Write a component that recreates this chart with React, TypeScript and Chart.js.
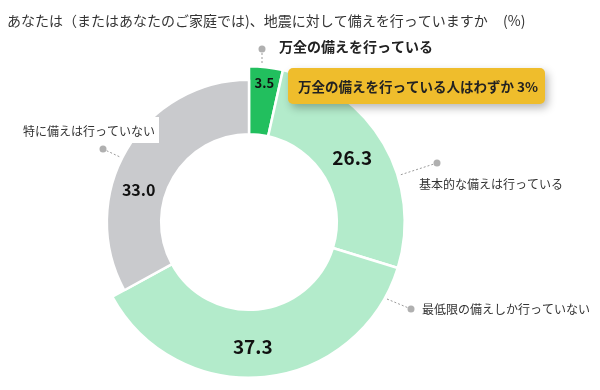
import React, { useEffect, useRef } from "react";
import { Chart, registerables } from "chart.js";

Chart.register(...registerables);

const categories = [
  "万全の備えを行っている",
  "基本的な備えは行っている",
  "最低限の備えしか行っていない",
  "特に備えは行っていない",
];
const values = [3.5, 26.3, 37.3, 33.0];
const valueLabels = ["3.5", "26.3", "37.3", "33.0"];
const colors = ["#22bf5e", "#b3ebcb", "#b3ebcb", "#c9cacd"];
const titleText = "あなたは（またはあなたのご家庭では)、地震に対して備えを行っていますか";
const unitText = "(%)";
const calloutText = "万全の備えを行っている人はわずか 3%";

// layout / style helpers (not data)
const ringScale = [1, 1, 1, 0.8];
const labelAngleFrac = [0.5, 0.48, 0.53, 0.38];
const labelRadiusFrac = [0.77, 0.5, 0.55, 0.5];
const labelFontSize = [13, 19, 19, 16];
const FONT = '"Noto Sans CJK JP", "Noto Sans", sans-serif';

const drawPlugin = {
  id: "customDraw",
  afterDatasetsUpdate(chart: any) {
    const meta = chart.getDatasetMeta(0);
    meta.data.forEach((arc: any, i: number) => {
      const s = ringScale[i];
      if (s !== 1) {
        arc.outerRadius = arc.innerRadius + (arc.outerRadius - arc.innerRadius) * s;
      }
    });
  },
  afterDatasetsDraw(chart: any) {
    const ctx: CanvasRenderingContext2D = chart.ctx;
    const meta = chart.getDatasetMeta(0);
    ctx.save();

    // title
    ctx.fillStyle = "#333";
    ctx.font = `14px ${FONT}`;
    ctx.textBaseline = "middle";
    ctx.textAlign = "left";
    ctx.fillText(titleText, 7, 21);
    ctx.fillText(unitText, 503, 21);

    // white background behind left label
    ctx.fillStyle = "#fff";
    ctx.fillRect(15, 117, 144, 26);

    // dotted leader lines and dots
    const leaders: [number, number, number, number][] = [
      [262, 49, 262, 64],
      [437, 163, 400, 175],
      [411, 309, 387, 299],
      [103, 149, 120, 157],
    ];
    ctx.strokeStyle = "#9a9a9a";
    ctx.lineWidth = 1;
    ctx.setLineDash([2, 2]);
    leaders.forEach(([x1, y1, x2, y2]) => {
      ctx.beginPath();
      ctx.moveTo(x1, y1);
      ctx.lineTo(x2, y2);
      ctx.stroke();
    });
    ctx.setLineDash([]);
    ctx.fillStyle = "#b0b0b0";
    leaders.forEach(([x1, y1]) => {
      ctx.beginPath();
      ctx.arc(x1, y1, 3.5, 0, Math.PI * 2);
      ctx.fill();
    });

    // category labels
    ctx.fillStyle = "#222";
    ctx.font = `bold 14px ${FONT}`;
    ctx.fillText(categories[0], 279, 47);
    ctx.fillStyle = "#333";
    ctx.font = `12px ${FONT}`;
    ctx.fillText(categories[1], 419, 184);
    ctx.fillText(categories[2], 422, 309);
    ctx.fillText(categories[3], 23, 131);

    // value labels
    ctx.fillStyle = "#111";
    ctx.textAlign = "center";
    meta.data.forEach((arc: any, i: number) => {
      const a = arc.startAngle + (arc.endAngle - arc.startAngle) * labelAngleFrac[i];
      const r = arc.innerRadius + (arc.outerRadius - arc.innerRadius) * labelRadiusFrac[i];
      ctx.font = `bold ${labelFontSize[i]}px ${FONT}`;
      ctx.fillText(valueLabels[i], arc.x + Math.cos(a) * r, arc.y + Math.sin(a) * r);
    });

    // yellow callout
    ctx.save();
    ctx.shadowColor = "rgba(0,0,0,0.28)";
    ctx.shadowBlur = 8;
    ctx.shadowOffsetX = 3;
    ctx.shadowOffsetY = 4;
    ctx.fillStyle = "#efbd2c";
    ctx.beginPath();
    (ctx as any).roundRect(288, 68, 257, 36, 5);
    ctx.fill();
    ctx.restore();
    ctx.fillStyle = "#222";
    ctx.textAlign = "left";
    ctx.font = `bold 13.5px ${FONT}`;
    ctx.fillText(calloutText, 298, 87);

    ctx.restore();
  },
};

export default function App() {
  const canvasRef = useRef<HTMLCanvasElement | null>(null);

  useEffect(() => {
    document.body.style.margin = "0";
    const canvas = canvasRef.current;
    if (!canvas) return;
    const chart = new Chart(canvas, {
      type: "doughnut",
      data: {
        labels: categories,
        datasets: [
          {
            data: values,
            backgroundColor: colors,
            borderColor: "#ffffff",
            borderWidth: 2.5,
            hoverOffset: 0,
          },
        ],
      },
      options: {
        animation: false,
        responsive: true,
        maintainAspectRatio: false,
        cutout: "56.4%",
        rotation: 0,
        layout: { padding: { left: 92, top: 65, right: 194, bottom: 11 } },
        events: [],
        plugins: {
          legend: { display: false },
          tooltip: { enabled: false },
          title: { display: false },
        },
      },
      plugins: [drawPlugin],
    });
    return () => chart.destroy();
  }, []);

  return (
    <div style={{ position: "relative", width: 600, height: 390, background: "#fff" }}>
      <canvas ref={canvasRef} />
    </div>
  );
}
